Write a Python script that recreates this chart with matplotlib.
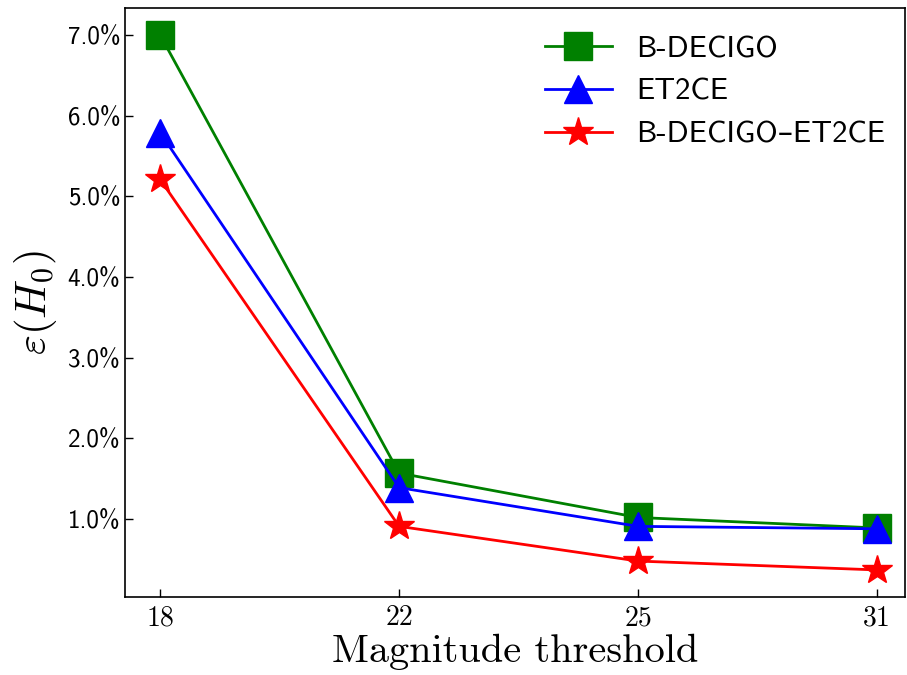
import matplotlib
matplotlib.use('Agg')
import matplotlib.pyplot as plt

# Data (values in percent)
thresholds = ['18', '22', '25', '31']
b_decigo = [7.00, 1.57, 1.02, 0.89]
et2ce = [5.79, 1.39, 0.91, 0.88]
combined = [5.21, 0.91, 0.48, 0.37]
yticks = [1.0, 2.0, 3.0, 4.0, 5.0, 6.0, 7.0]

plt.rcParams['mathtext.fontset'] = 'cm'
plt.rcParams['axes.unicode_minus'] = False

fig = plt.figure(figsize=(9.07, 6.75), dpi=100)
ax = fig.add_axes([0.138, 0.116, 0.86, 0.872])

x = list(range(len(thresholds)))
ax.plot(x, b_decigo, color='green', marker='s', markersize=20, linewidth=2, label='B-DECIGO')
ax.plot(x, et2ce, color='blue', marker='^', markersize=20, linewidth=2, label='ET2CE')
ax.plot(x, combined, color='red', marker='*', markersize=22, linewidth=2, label='B-DECIGO\u2013ET2CE')

ax.set_xlim(-0.146, 3.117)
ax.set_xticks(x)
ax.set_xticklabels(thresholds, family=['cmr10', 'DejaVu Serif'], fontsize=20)
ax.set_yticks(yticks)
ax.set_yticklabels(['%.1f%%' % v for v in yticks], family=['cmss10', 'DejaVu Sans'], fontsize=18)
ax.tick_params(direction='in', length=6, width=1)
ax.tick_params(axis='x', pad=6)
for s in ax.spines.values():
    s.set_linewidth(1.2)

ax.set_xlabel('Magnitude threshold', family=['cmr10', 'DejaVu Serif'], fontsize=29, labelpad=2)
ax.set_ylabel(r'$\varepsilon(H_0)$', fontsize=31, labelpad=6)

leg = ax.legend(loc='upper right', bbox_to_anchor=(0.9905, 0.974), frameon=False,
                prop={'family': ['cmss10', 'DejaVu Sans'], 'size': 22},
                handlelength=2.2, borderaxespad=0, labelspacing=0.5)

fig.savefig('out.png', dpi=100)
